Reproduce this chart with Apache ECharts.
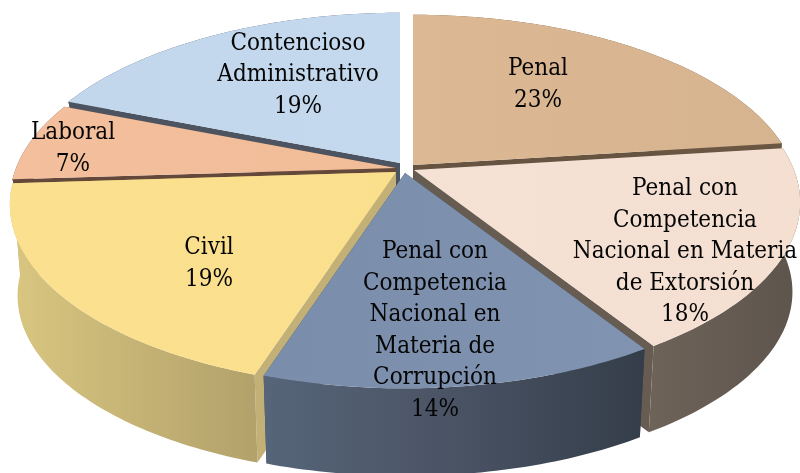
<!DOCTYPE html>
<html>
<head>
<meta charset="utf-8">
<style>
  html, body { margin: 0; padding: 0; background: #fff; }
  #chart { width: 800px; height: 473px; }
</style>
<script src="https://cdn.jsdelivr.net/npm/echarts@6/dist/echarts.min.js"></script>
</head>
<body>
<div id="chart"></div>
<script>
  // clockwise from 12 o'clock
  var categories = [
    'Penal',
    'Penal con\nCompetencia\nNacional en Materia\nde Extorsión',
    'Penal con\nCompetencia\nNacional en\nMateria de\nCorrupción',
    'Civil',
    'Laboral',
    'Contencioso\nAdministrativo'
  ]
  var sliceValues = [23, 18, 14, 19, 7, 19]

  // styles, same order as categories
  var topColors = [
    ['#dcb893', '#d6b48f'],
    ['#f5e2d5', '#f4dfd1'],
    ['#7a8dab', '#8094b1'],
    ['#fbe08f', '#fadf8d'],
    ['#f3bf9c', '#f1bd99'],
    ['#c2d6ec', '#c4d8ee']
  ]
  var sideColors = [
    ['#6a5642', '#6a5642'],
    ['#6e6359', '#5d544c'],
    ['#566579', '#4a5364', '#343d49'],
    ['#d9c681', '#b2a16a'],
    ['#64493a', '#64493a'],
    ['#4c5462', '#4c5462']
  ]
  var wallColors = ['#665340', '#675c52', '#3b4757', '#c2b077', '#64493a', '#4c5462']
  // explode offset of each slice apex
  var apexes = [[413, 165], [414, 170], [405, 173], [396, 172], [396, 168], [400, 163]]
  // the back slices only need a short wall, the rest is hidden anyway
  var depths = [92, 90, 92, 92, 30, 30]
  var labelCenters = [[538, 85], [685, 252], [435, 331], [209, 264], [73, 149], [298, 75]]
  // back slices first so the front ones cover them
  var paintOrder = [5, 0, 4, 1, 3, 2]

  var RX = 380, RY = 177, PERSP = 0.178, BOTTOM_SCALE = 0.98

  function startAngle(i) {
    var sum = 0, total = 0
    sliceValues.forEach(function (v, k) {
      total += v
      if (k < i) sum += v
    })
    return sum / total * Math.PI * 2
  }

  // circle point -> screen, with perspective so the near edge looks bigger
  function project(theta, apex, depth) {
    var u = Math.sin(theta), v = -Math.cos(theta)
    var w = 1 - PERSP * v
    var dx = RX * u / w, dy = RY * v / w
    if (depth) return [apex[0] + dx * BOTTOM_SCALE, apex[1] + dy * BOTTOM_SCALE + depth]
    return [apex[0] + dx, apex[1] + dy]
  }

  function arc(a0, a1, apex, depth) {
    var pts = [], n = Math.ceil((a1 - a0) / Math.PI * 180)
    for (var k = 0; k <= n; k++) pts.push(project(a0 + (a1 - a0) * k / n, apex, depth))
    return pts
  }

  function hGrad(c) {
    return {
      type: 'linear', x: 0, y: 0, x2: 1, y2: 0,
      colorStops: c.map(function (color, k) { return { offset: k / (c.length - 1), color: color } })
    }
  }

  function poly(points, fill) {
    return { type: 'polygon', shape: { points: points }, style: { fill: fill, stroke: null } }
  }

  function renderSlice(params, api) {
    var i = api.value(0)
    var a0 = startAngle(i), a1 = a0 + api.value(1) / 100 * Math.PI * 2
    var apex = apexes[i]
    var low = [apex[0], apex[1] + depths[i]]
    var top = arc(a0, a1, apex, 0), bottom = arc(a0, a1, apex, depths[i])
    var first = top[0], last = top[top.length - 1]
    return {
      type: 'group',
      children: [
        poly([apex, first, bottom[0], low], wallColors[i]),
        poly([apex, last, bottom[bottom.length - 1], low], wallColors[i]),
        poly(top.concat(bottom.slice().reverse()), hGrad(sideColors[i])),
        poly([apex].concat(top), hGrad(topColors[i])),
        {
          type: 'text',
          z2: 100,
          style: {
            x: labelCenters[i][0],
            y: labelCenters[i][1],
            text: categories[i] + '\n' + api.value(1) + '%',
            font: '24px "DejaVu Serif Condensed", "DejaVu Serif", serif',
            lineHeight: 31.5,
            fill: '#050505',
            align: 'center',
            verticalAlign: 'middle'
          }
        }
      ]
    }
  }

  var chart = echarts.init(document.getElementById('chart'))
  chart.setOption({
    animation: false,
    backgroundColor: '#fff',
    series: [{
      type: 'custom',
      coordinateSystem: 'none',
      renderItem: renderSlice,
      data: paintOrder.map(function (i) { return [i, sliceValues[i]] })
    }]
  })
</script>
</body>
</html>
